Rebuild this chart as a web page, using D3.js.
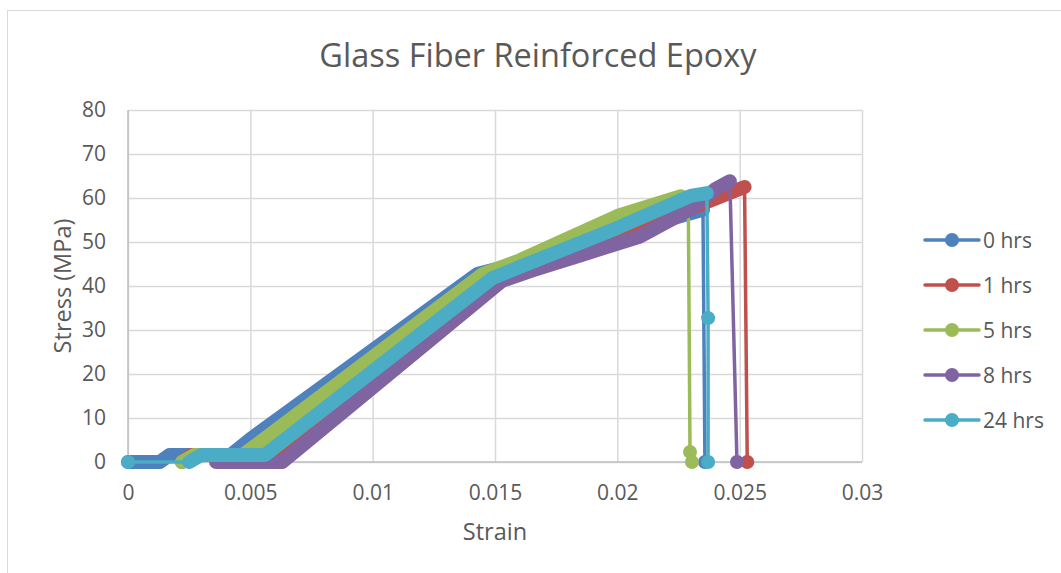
<!DOCTYPE html>
<html>
<head>
<meta charset="utf-8">
<script src="https://cdn.jsdelivr.net/npm/d3@7"></script>
<style>
  body { margin: 0; background: #fff; }
  text { font-family: "Open Sans", sans-serif; fill: #595959; }
</style>
</head>
<body>
<script>
      // Width and height
      var w = 1061;
      var h = 573;

      // Chart values
      var seriesNames = ["0 hrs", "1 hrs", "5 hrs", "8 hrs", "24 hrs"];
      var xTicks = [0, 0.005, 0.01, 0.015, 0.02, 0.025, 0.03];
      var yTicks = [0, 10, 20, 30, 40, 50, 60, 70, 80];

      // [strain, stress] - dense loading part (markers overlap into a band)
      var load0 = [[0,0],[0.0013,0],[0.0017,1.6],[0.0042,1.6],[0.005,5.2],[0.0143,42.8],[0.0155,44.5],[0.02,51.8],[0.0235,57.3]];
      var load1 = [[0.0022,0],[0.0026,1.6],[0.0058,1.6],[0.0148,40.5],[0.016,43.5],[0.0185,48],[0.0209,52.5],[0.0234,58.5],[0.0252,62.5]];
      var load5 = [[0.0022,0],[0.0027,1.6],[0.0047,1.6],[0.0145,42.7],[0.016,45.8],[0.02,55.9],[0.0226,60.4],[0.0229,59.6]];
      var load8 = [[0.0036,0],[0.0063,0],[0.0153,41.2],[0.0165,43.5],[0.0185,47],[0.0209,51.2],[0.023,57.5],[0.024,62],[0.0246,63.8]];
      var load24 = [[0.0025,0],[0.003,1.6],[0.0056,1.6],[0.0149,41.8],[0.016,44.3],[0.02,53.2],[0.023,60.5],[0.02366,61.1]];

      // sparse points before / after the dense part (single markers)
      var head24 = [[0,0]];
      var drop0 = [[0.02358,0]];
      var drop1 = [[0.02531,0]];
      var drop5 = [[0.02297,2.3],[0.02305,0]];
      var drop8 = [[0.02489,0]];
      var drop24 = [[0.02371,32.7],[0.02371,0]];

      var colors = ["#4f81bd", "#c0504d", "#9bbb59", "#8064a2", "#4bacc6"];

      var series = [
        {name: seriesNames[0], head: [], load: load0, drop: drop0},
        {name: seriesNames[1], head: [], load: load1, drop: drop1},
        {name: seriesNames[2], head: [], load: load5, drop: drop5},
        {name: seriesNames[3], head: [], load: load8, drop: drop8},
        {name: seriesNames[4], head: head24, load: load24, drop: drop24}
      ];

      var plot = {left: 128, right: 862, top: 110, bottom: 462};

      var x = d3.scaleLinear().domain([0, 0.03]).range([plot.left, plot.right]);
      var y = d3.scaleLinear().domain([0, 80]).range([plot.bottom, plot.top]);

      var svg = d3.select("body")
          .append("svg")
          .attr("width", w)
          .attr("height", h);

      // chart frame
      svg.append("rect")
          .attr("x", 7.5).attr("y", 10.5)
          .attr("width", 1200).attr("height", 700)
          .attr("fill", "#fff")
          .attr("stroke", "#d9d9d9");

      // gridlines
      var gx = svg.append("g")
          .attr("transform", `translate(0, ${plot.bottom})`)
          .call(d3.axisBottom(x).tickValues(xTicks).tickSize(-(plot.bottom - plot.top)).tickFormat(""));
      var gy = svg.append("g")
          .attr("transform", `translate(${plot.left}, 0)`)
          .call(d3.axisLeft(y).tickValues(yTicks).tickSize(-(plot.right - plot.left)).tickFormat(""));
      [gx, gy].forEach(g => {
        g.select(".domain").remove();
        g.selectAll("line").attr("stroke", "#d9d9d9").attr("stroke-width", 1.5);
      });

      // axis lines
      svg.append("line")
          .attr("x1", plot.left).attr("x2", plot.right)
          .attr("y1", plot.bottom).attr("y2", plot.bottom)
          .attr("stroke", "#bfbfbf").attr("stroke-width", 1.5);
      svg.append("line")
          .attr("x1", plot.left).attr("x2", plot.left)
          .attr("y1", plot.top).attr("y2", plot.bottom)
          .attr("stroke", "#bfbfbf").attr("stroke-width", 1.5);

      // tick labels
      var ax = svg.append("g")
          .attr("transform", `translate(0, ${plot.bottom})`)
          .call(d3.axisBottom(x).tickValues(xTicks).tickSize(0).tickPadding(23).tickFormat(d => d3.format("")(+d.toFixed(3))));
      var ay = svg.append("g")
          .attr("transform", `translate(${plot.left}, 0)`)
          .call(d3.axisLeft(y).tickValues(yTicks).tickSize(0).tickPadding(22));
      [ax, ay].forEach(g => {
        g.select(".domain").remove();
        g.selectAll("text")
            .attr("fill", "#595959")
            .style("font-family", "'Open Sans', sans-serif")
            .style("font-size", "21px");
      });

      // titles
      svg.append("text")
          .attr("x", 538).attr("y", 67)
          .attr("text-anchor", "middle")
          .style("font-size", "32.5px")
          .text("Glass Fiber Reinforced Epoxy");

      svg.append("text")
          .attr("x", 495).attr("y", 540)
          .attr("text-anchor", "middle")
          .style("font-size", "23.5px")
          .text("Strain");

      svg.append("text")
          .attr("transform", "translate(71, 286) rotate(-90)")
          .attr("text-anchor", "middle")
          .style("font-size", "23.5px")
          .text("Stress (MPa)");

      // series
      var line = d3.line().x(d => x(d[0])).y(d => y(d[1]));

      series.forEach((s, i) => {
        var g = svg.append("g").attr("class", "series");
        var c = colors[i];

        if (s.head.length) {
          g.append("path")
              .attr("d", line(s.head.concat([s.load[0]])))
              .attr("fill", "none").attr("stroke", c).attr("stroke-width", 3.5);
        }
        g.append("path")
            .attr("d", line(s.load))
            .attr("fill", "none").attr("stroke", c)
            .attr("stroke-width", 14)
            .attr("stroke-linecap", "round")
            .attr("stroke-linejoin", "round");
        g.append("path")
            .attr("d", line([s.load[s.load.length - 1]].concat(s.drop)))
            .attr("fill", "none").attr("stroke", c).attr("stroke-width", 3.5);

        g.selectAll("circle")
            .data(s.head.concat(s.drop))
            .enter().append("circle")
            .attr("cx", d => x(d[0]))
            .attr("cy", d => y(d[1]))
            .attr("r", 7)
            .attr("fill", c);
      });

      // legend
      var legend = svg.append("g")
          .selectAll("g")
          .data(series)
          .enter().append("g")
          .attr("transform", (d, i) => `translate(925, ${240 + i * 45})`);

      legend.append("line")
          .attr("x1", 0).attr("x2", 54)
          .attr("stroke", (d, i) => colors[i])
          .attr("stroke-width", 3.5)
          .attr("stroke-linecap", "round");
      legend.append("circle")
          .attr("cx", 27).attr("r", 7)
          .attr("fill", (d, i) => colors[i]);
      legend.append("text")
          .attr("x", 58).attr("y", 7.5)
          .style("font-size", "21px")
          .text(d => d.name);
</script>
</body>
</html>
